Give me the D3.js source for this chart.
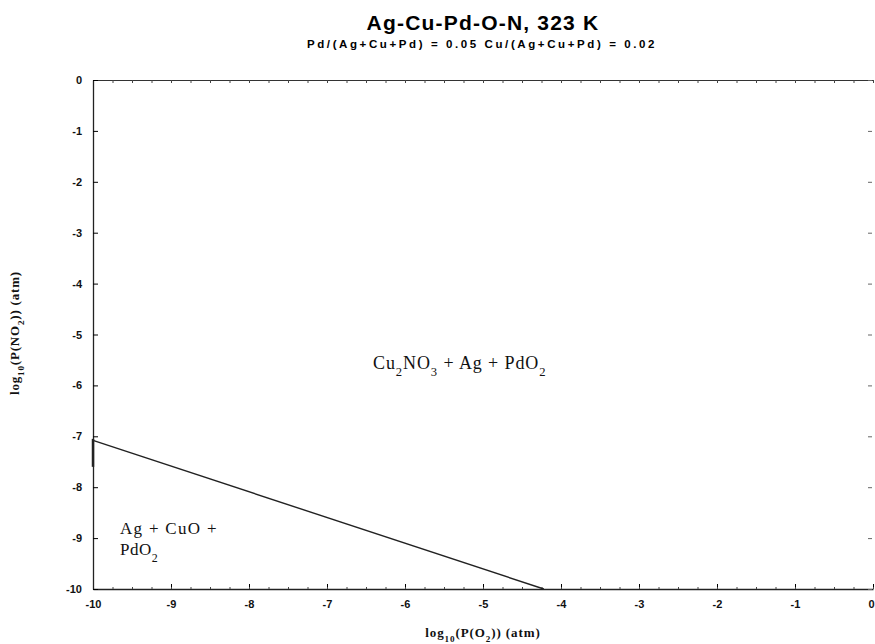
<!DOCTYPE html>
<html>
<head>
<meta charset="utf-8">
<script src="https://cdn.jsdelivr.net/npm/d3@7"></script>
<style>
  body { margin: 0; background: #fff; }
  svg { display: block; }
  .tick text { font-family: "Liberation Sans", Arial, sans-serif; font-weight: bold; font-size: 11px; fill: #111; }
  .serif { font-family: "Liberation Serif", "Times New Roman", serif; fill: #111; }
</style>
</head>
<body>
<div id="chart"></div>
<script>
// axis domains and ticks
const xTicks = [-10, -9, -8, -7, -6, -5, -4, -3, -2, -1, 0];
const yTicks = [0, -1, -2, -3, -4, -5, -6, -7, -8, -9, -10];
const xDomain = [-10, 0];
const yDomain = [-10, 0];

// phase boundary (log P(O2), log P(NO2))
const boundary = [[-10, -7.08], [-4.22, -10]];
const boundaryEdge = [[-10, -7.05], [-10, -7.6]];

const titleText = "Ag-Cu-Pd-O-N, 323 K";
const subtitleText = "Pd/(Ag+Cu+Pd) = 0.05  Cu/(Ag+Cu+Pd) =  0.02";

const width = 875, height = 644;
const margin = { top: 80, right: 2, bottom: 55, left: 93 };

const svg = d3.select('#chart').append('svg')
  .attr('width', width)
  .attr('height', height);

const x = d3.scaleLinear().domain(xDomain).range([margin.left, width - margin.right]);
const y = d3.scaleLinear().domain(yDomain).range([height - margin.bottom, margin.top]);

const fmt = d => String(d);

// minor ticks on bottom and top
const minor = d3.range(-10, 0.001, 0.25);

svg.append('g')
  .attr('transform', `translate(0,${y(-10)})`)
  .call(d3.axisBottom(x).tickValues(xTicks).tickFormat(fmt).tickSize(-5).tickSizeOuter(0).tickPadding(11))
  .call(g => g.select('.domain').attr('stroke', '#222').attr('stroke-width', 1.3))
  .call(g => g.selectAll('.tick text').filter(d => d === 0).attr('text-anchor', 'end').attr('dx', 1));

svg.append('g')
  .attr('transform', `translate(0,${y(-10)})`)
  .call(d3.axisBottom(x).tickValues(minor).tickFormat('').tickSize(-2).tickSizeOuter(0))
  .call(g => g.select('.domain').remove())
  .selectAll('line').attr('stroke', '#444');

svg.append('g')
  .attr('transform', `translate(0,${y(0)})`)
  .call(d3.axisTop(x).tickValues(minor).tickFormat('').tickSize(-3).tickSizeOuter(0))
  .call(g => g.select('.domain').attr('stroke', '#333').attr('stroke-width', 1.2))
  .selectAll('line').attr('stroke', '#444');

svg.append('g')
  .attr('transform', `translate(${x(-10)},0)`)
  .call(d3.axisLeft(y).tickValues(yTicks).tickFormat(fmt).tickSize(-5).tickSizeOuter(0).tickPadding(11))
  .call(g => g.select('.domain').attr('stroke', '#222').attr('stroke-width', 1.3));

svg.append('g')
  .attr('transform', `translate(${x(0) - 1},0)`)
  .call(d3.axisRight(y).tickValues(yTicks).tickFormat('').tickSize(-4).tickSizeOuter(0))
  .call(g => g.select('.domain').remove())
  .selectAll('line').attr('stroke', '#666');

// boundary lines
const line = d3.line().x(d => x(d[0])).y(d => y(d[1]));
svg.append('path').datum(boundary)
  .attr('d', line).attr('fill', 'none').attr('stroke', '#222').attr('stroke-width', 1.4);
svg.append('path').datum(boundaryEdge)
  .attr('d', line).attr('fill', 'none').attr('stroke', '#222').attr('stroke-width', 2.5);

// titles
svg.append('text')
  .attr('x', 483).attr('y', 30)
  .attr('text-anchor', 'middle')
  .style('font-family', '"Liberation Sans", Arial, sans-serif')
  .style('font-weight', 'bold').style('font-size', '21px')
  .style('letter-spacing', '1.2px')
  .text(titleText);

svg.append('text')
  .attr('x', 482).attr('y', 48)
  .attr('text-anchor', 'middle')
  .style('font-family', '"Liberation Sans", Arial, sans-serif')
  .style('font-weight', 'bold').style('font-size', '11.5px')
  .style('letter-spacing', '2.6px')
  .text(subtitleText);

// helper for text with subscripts
function richText(sel, parts) {
  parts.forEach(p => {
    const t = sel.append('tspan').text(p[0]);
    if (p[1] === 'sub') t.attr('baseline-shift', 'sub').style('font-size', '0.7em');
  });
}

// axis titles
const xl = svg.append('text').attr('class', 'serif')
  .attr('x', 483).attr('y', 637).attr('text-anchor', 'middle')
  .style('font-weight', 'bold').style('font-size', '13px').style('letter-spacing', '0.9px');
richText(xl, [['log'], ['10', 'sub'], ['(P(O'], ['2', 'sub'], [')) (atm)']]);

const yl = svg.append('text').attr('class', 'serif')
  .attr('transform', 'translate(19,333) rotate(-90)')
  .attr('text-anchor', 'middle')
  .style('font-weight', 'bold').style('font-size', '13px').style('letter-spacing', '0.8px');
richText(yl, [['log'], ['10', 'sub'], ['(P(NO'], ['2', 'sub'], [')) (atm)']]);

// region labels
const r1 = svg.append('text').attr('class', 'serif')
  .attr('x', 373).attr('y', 369).style('font-size', '18px').style('letter-spacing', '0.9px');
richText(r1, [['Cu'], ['2', 'sub'], ['NO'], ['3', 'sub'], [' + Ag + PdO'], ['2', 'sub']]);

const r2 = svg.append('text').attr('class', 'serif')
  .attr('x', 120).attr('y', 534).style('font-size', '17px').style('letter-spacing', '1.3px');
richText(r2, [['Ag + CuO +']]);

const r3 = svg.append('text').attr('class', 'serif')
  .attr('x', 120).attr('y', 555).style('font-size', '17px').style('letter-spacing', '0.5px');
richText(r3, [['PdO'], ['2', 'sub']]);
</script>
</body>
</html>
